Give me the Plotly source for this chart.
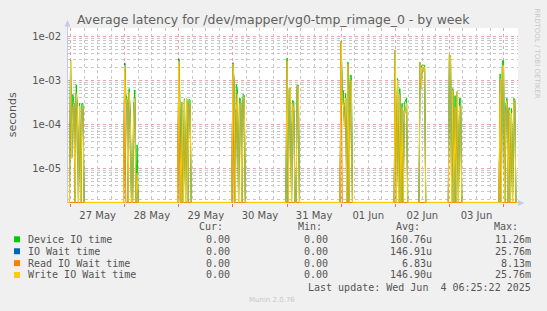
import plotly.graph_objects as go
import pandas as pd

# ---------------- data ----------------
range_start = "2025-05-26 22:25"
range_end = "2025-06-04 06:25"
timeline_start = "2025-05-26 22:00"
timeline_end = "2025-06-04 07:00"

group_starts = ["2025-05-27 00:00", "2025-05-28 00:00", "2025-05-29 00:00",
                "2025-05-30 00:00", "2025-05-31 00:00", "2025-06-01 00:00",
                "2025-06-02 00:00", "2025-06-02 11:00", "2025-06-03 00:00",
                "2025-06-03 22:30"]

device_io = [
    [2.9e-3, 1.8e-5, 4.8e-4, 3.0e-4, 0, 8.0e-4, 2.5e-4, 0, 3.0e-4, 0, 2.9e-4, 3.0e-4, 0],
    [2.5e-3, 4.8e-4, 3.8e-4, 0, 6.5e-4, 1.5e-4, 0, 0, 2.5e-4, 6.0e-4, 0, 3.4e-5, 0, 0],
    [3.1e-3, 3.4e-4, 0, 3.2e-4, 0, 3.8e-4, 0, 3.4e-4, 0, 3.7e-4, 3.5e-4, 0, 0],
    [2.5e-3, 9.0e-4, 0, 8.0e-4, 6.0e-4, 0, 4.0e-4, 3.5e-4, 0, 4.8e-4, 4.5e-4, 0],
    [3.2e-3, 0, 6.5e-4, 6.5e-4, 0, 3.5e-4, 3.2e-4, 0, 0, 7.8e-4, 7.8e-4, 0],
    [7.6e-3, 5.5e-4, 5.8e-4, 1.0e-4, 5.0e-4, 0, 2.6e-3, 0, 1.3e-3, 1.3e-3, 0, 0],
    [4.8e-3, 0, 1.1e-3, 0, 6.5e-4, 0, 3.0e-4, 0, 2.9e-4, 3.5e-4, 4.0e-4, 0],
    [2.6e-3, 2.0e-3, 2.2e-3, 2.2e-3, 2.2e-3, 0, 0],
    [3.8e-3, 3.5e-3, 0, 6.5e-4, 0, 4.5e-4, 0, 5.5e-4, 0, 3.9e-4, 3.9e-4, 0, 0],
    [1.4e-3, 0, 2.8e-3, 2.8e-3, 0, 2.7e-4, 3.9e-4, 0, 2.4e-4, 0, 2.3e-4, 0, 3.9e-4, 3.7e-4, 0],
]
io_wait = [
    [2.8e-3, 1.7e-5, 2.5e-4, 2.9e-4, 0, 5.0e-4, 2.4e-4, 0, 2.6e-4, 0, 2.2e-4, 2.6e-4, 0],
    [2.4e-3, 3.0e-4, 3.5e-4, 0, 5.5e-4, 1.2e-4, 0, 0, 2.1e-4, 4.0e-4, 0, 7.8e-6, 0, 0],
    [3.0e-3, 1.5e-4, 0, 3.2e-4, 0, 3.6e-4, 0, 3.8e-4, 0, 3.0e-4, 2.9e-4, 0, 0],
    [2.5e-3, 9.0e-4, 0, 2.1e-4, 5.0e-4, 0, 3.0e-4, 2.9e-4, 0, 4.0e-4, 4.2e-4, 0],
    [2.8e-3, 0, 6.5e-4, 6.5e-4, 0, 3.0e-4, 2.0e-4, 0, 0, 7.5e-4, 7.5e-4, 0],
    [7.6e-3, 2.9e-4, 3.0e-4, 8.7e-5, 4.0e-4, 0, 2.4e-3, 0, 9.0e-4, 1.0e-3, 0, 0],
    [4.9e-3, 0, 1.0e-3, 0, 5.0e-4, 0, 2.5e-4, 0, 2.0e-4, 1.8e-4, 3.0e-4, 0],
    [2.6e-3, 6.5e-4, 2.2e-3, 1.6e-3, 2.0e-3, 0, 0],
    [3.9e-3, 3.5e-3, 0, 6.0e-4, 0, 2.5e-4, 0, 5.5e-4, 0, 2.6e-4, 2.6e-4, 0, 0],
    [1.1e-3, 0, 2.2e-3, 2.2e-3, 0, 1.8e-4, 3.5e-4, 0, 2.2e-4, 0, 1.8e-4, 0, 3.5e-4, 3.3e-4, 0],
]
read_io = [
    [0, 0, 0, 0, 0, 0, 0, 0, 0, 0, 0, 0, 0],
    [1.5e-3, 0, 0, 0, 0, 0, 0, 0, 0, 0, 0, 0, 0, 0],
    [2.5e-3, 0, 0, 0, 0, 0, 0, 0, 0, 0, 0, 0, 0],
    [1.2e-3, 0, 0, 0, 0, 0, 0, 0, 0, 0, 0, 0],
    [0, 0, 0, 0, 0, 0, 0, 0, 0, 0, 0, 0],
    [7.0e-3, 0, 0, 0, 0, 0, 0, 0, 0, 0, 0, 0],
    [2.0e-3, 0, 0, 0, 0, 0, 0, 0, 0, 0, 0, 0],
    [0, 0, 0, 0, 0, 0, 0],
    [0, 0, 0, 0, 0, 0, 0, 0, 0, 0, 0, 0, 0],
    [5.0e-4, 0, 0, 0, 0, 0, 0, 0, 0, 0, 0, 0, 0, 0, 0],
]
write_io = [
    [2.8e-3, 1.7e-5, 2.5e-4, 2.9e-4, 0, 5.0e-4, 2.4e-4, 0, 2.6e-4, 0, 2.2e-4, 2.6e-4, 0],
    [2.2e-3, 3.0e-4, 3.5e-4, 0, 5.5e-4, 1.2e-4, 0, 0, 2.1e-4, 4.0e-4, 0, 7.8e-6, 0, 0],
    [2.8e-3, 1.5e-4, 0, 3.2e-4, 0, 3.6e-4, 0, 3.8e-4, 0, 3.0e-4, 2.9e-4, 0, 0],
    [2.4e-3, 9.0e-4, 0, 2.1e-4, 5.0e-4, 0, 3.0e-4, 2.9e-4, 0, 4.0e-4, 4.2e-4, 0],
    [2.8e-3, 0, 6.5e-4, 6.5e-4, 0, 3.0e-4, 2.0e-4, 0, 0, 7.5e-4, 7.5e-4, 0],
    [7.5e-3, 2.9e-4, 3.0e-4, 8.7e-5, 4.0e-4, 0, 2.4e-3, 0, 9.0e-4, 1.0e-3, 0, 0],
    [4.8e-3, 0, 1.0e-3, 0, 5.0e-4, 0, 2.5e-4, 0, 2.0e-4, 1.8e-4, 3.0e-4, 0],
    [2.6e-3, 6.5e-4, 2.2e-3, 1.6e-3, 2.0e-3, 0, 0],
    [3.9e-3, 3.5e-3, 0, 6.0e-4, 0, 2.5e-4, 0, 5.5e-4, 0, 2.6e-4, 2.6e-4, 0, 0],
    [1.1e-3, 0, 2.2e-3, 2.2e-3, 0, 1.8e-4, 3.5e-4, 0, 2.2e-4, 0, 1.8e-4, 0, 3.5e-4, 3.3e-4, 0],
]

series_names = ["Device IO time", "IO Wait time", "Read IO Wait time", "Write IO Wait time"]
series_colors = ["#00CC00", "#0066B3", "#FF8000", "#FFCC00"]
stat_cur = ["0.00", "0.00", "0.00", "0.00"]
stat_min = ["0.00", "0.00", "0.00", "0.00"]
stat_avg = ["160.76u", "146.91u", "6.83u", "146.90u"]
stat_max = ["11.26m", "25.76m", "8.13m", "25.76m"]

title_text = "Average latency for /dev/mapper/vg0-tmp_rimage_0 - by week"
ytick_vals = [1e-5, 1e-4, 1e-3, 1e-2]
ytick_text = ["1e-05", "1e-04", "1e-03", "1e-02"]
last_update = "Last update: Wed Jun\u00a0\u00a04 06:25:22 2025"

# ---------------- build time series ----------------
times = pd.date_range(timeline_start, timeline_end, freq="30min")
YMIN_LOG, YMAX_LOG = -5.79, -1.81
floor = 10 ** (YMIN_LOG + 0.012)   # zero values rest on bottom edge (log axis)


def build(groups):
    s = pd.Series(0.0, index=times)
    for st, vals in zip(group_starts, groups):
        idx = pd.date_range(st, periods=len(vals), freq="30min")
        s.loc[idx] = vals
    return [v if v > 0 else floor for v in s.values]


all_groups = [device_io, io_wait, read_io, write_io]

fig = go.Figure()
for name, col, grp in zip(series_names, series_colors, all_groups):
    fig.add_trace(go.Scatter(x=times, y=build(grp), mode="lines", name=name,
                             line=dict(color=col, width=1), showlegend=False))

# ---------------- layout ----------------
W_PX, H_PX = 547, 311
L, R, T, B = 67, 518, 27.5, 203
PW, PH = R - L, B - T


def px(x):
    return (x - L) / PW


def py(y):
    return (B - y) / PH


GRID_RED = "#EBA3A3"
GRID_GRAY = "#C8C8C8"
TXT = "#555555"

fig.update_layout(
    width=W_PX, height=H_PX,
    margin=dict(l=L, r=W_PX - R, t=T, b=H_PX - B, pad=0),
    paper_bgcolor="#F0F0F0", plot_bgcolor="#FFFFFF",
    font=dict(family="DejaVu Sans", size=10, color=TXT),
    showlegend=False,
)
fig.update_xaxes(
    type="date", range=[range_start, range_end],
    tick0="2025-05-27", dtick=86400000, tickformat="%d %b",
    ticklabelmode="period",
    ticks="outside", ticklen=3, tickcolor="#E07070",
    showgrid=True, gridcolor=GRID_RED, griddash="dot", gridwidth=1,
    minor=dict(dtick=21600000, tick0="2025-05-27", showgrid=True,
               gridcolor=GRID_GRAY, griddash="dot", gridwidth=1),
    showline=False, zeroline=False,
    tickfont=dict(family="DejaVu Sans", size=10, color=TXT),
)
minor_y = [k * 10.0 ** e for e in range(-6, -1) for k in range(2, 10)]
fig.update_yaxes(
    type="log", range=[YMIN_LOG, YMAX_LOG],
    tickmode="array", tickvals=ytick_vals, ticktext=ytick_text,
    ticks="outside", ticklen=3, tickcolor="rgba(0,0,0,0)",
    showgrid=True, gridcolor=GRID_RED, griddash="dot", gridwidth=1,
    minor=dict(tickmode="array", tickvals=minor_y, showgrid=True,
               gridcolor=GRID_GRAY, griddash="dot", gridwidth=1),
    showline=False, zeroline=False,
    tickfont=dict(family="DejaVu Sans", size=10, color=TXT),
)

shapes = []
AXC = "#C9C9EE"
# left axis line + arrow
shapes.append(dict(type="line", xref="paper", yref="paper", x0=px(67.5), x1=px(67.5),
                   y0=py(203), y1=py(24), line=dict(color=AXC, width=1)))
shapes.append(dict(type="path", xref="paper", yref="paper",
                   path=f"M {px(64.5)} {py(26)} L {px(70.5)} {py(26)} L {px(67.5)} {py(19.5)} Z",
                   fillcolor=AXC, line=dict(width=0)))
# bottom arrow
shapes.append(dict(type="path", xref="paper", yref="paper",
                   path=f"M {px(518)} {py(200)} L {px(518)} {py(206)} L {px(524.5)} {py(203)} Z",
                   fillcolor=AXC, line=dict(width=0)))

annotations = []
annotations.append(dict(text=title_text, xref="paper", yref="paper", x=px(273.5), y=py(19),
                        xanchor="center", yanchor="middle", showarrow=False,
                        font=dict(family="DejaVu Sans", size=12.5, color="#606060")))
annotations.append(dict(text="seconds", xref="paper", yref="paper", x=px(12), y=py(115),
                        xanchor="center", yanchor="middle", textangle=-90, showarrow=False,
                        font=dict(family="DejaVu Sans", size=11, color=TXT)))
annotations.append(dict(text="RRDTOOL / TOBI OETIKER", xref="paper", yref="paper",
                        x=px(537), y=py(53), xanchor="center", yanchor="middle",
                        textangle=90, showarrow=False,
                        font=dict(family="DejaVu Sans", size=7, color="#C8C8C8")))

MONO = "DejaVu Sans Mono"
hdr_y = 227
for txt, xr in zip(["Cur:", "Min:", "Avg:", "Max:"], [225, 323.5, 422, 520]):
    annotations.append(dict(text=txt, xref="paper", yref="paper", x=px(xr), y=py(hdr_y),
                            xanchor="right", yanchor="middle", showarrow=False,
                            font=dict(family=MONO, size=10, color=TXT)))
row_y = [239.4, 251.4, 263.3, 275.2]
for i in range(4):
    yy = row_y[i]
    shapes.append(dict(type="rect", xref="paper", yref="paper",
                       x0=px(14), x1=px(20), y0=py(yy + 3), y1=py(yy - 3),
                       fillcolor=series_colors[i], line=dict(width=0)))
    annotations.append(dict(text=series_names[i], xref="paper", yref="paper", x=px(26), y=py(yy),
                            xanchor="left", yanchor="middle", showarrow=False,
                            font=dict(family=MONO, size=10, color=TXT)))
    for txt, xr in zip([stat_cur[i], stat_min[i], stat_avg[i], stat_max[i]], [232, 330, 434.3, 532.5]):
        annotations.append(dict(text=txt, xref="paper", yref="paper", x=px(xr), y=py(yy),
                                xanchor="right", yanchor="middle", showarrow=False,
                                font=dict(family=MONO, size=10, color=TXT)))
annotations.append(dict(text=last_update, xref="paper", yref="paper", x=px(532.5), y=py(287.7),
                        xanchor="right", yanchor="middle", showarrow=False,
                        font=dict(family=MONO, size=10, color=TXT)))
annotations.append(dict(text="Munin 2.0.76", xref="paper", yref="paper", x=px(272), y=py(300),
                        xanchor="center", yanchor="middle", showarrow=False,
                        font=dict(family="DejaVu Sans", size=7, color="#C8C8C8")))

fig.update_layout(shapes=shapes, annotations=annotations)
fig.write_html("out.html")
